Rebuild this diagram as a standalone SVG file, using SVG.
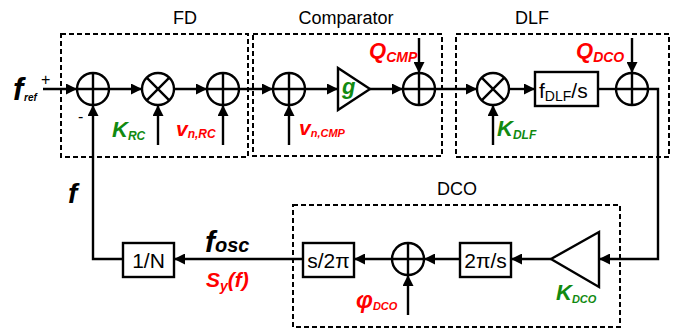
<svg xmlns="http://www.w3.org/2000/svg" width="686" height="331" viewBox="0 0 686 331">
<defs>
<marker id="ah" markerUnits="userSpaceOnUse" markerWidth="11" markerHeight="11" refX="11" refY="5.5" orient="auto">
<path d="M0,0 L11,5.5 L0,11 z" fill="#000"/>
</marker>
</defs>
<style>
.ln{stroke:#000;stroke-width:2.4;fill:none}
.ar{stroke:#000;stroke-width:2.4;fill:none;marker-end:url(#ah)}
.db{stroke:#000;stroke-width:2;fill:none;stroke-dasharray:5,3}
.cir{stroke:#000;stroke-width:2.4;fill:#fff}
.bx{stroke:#000;stroke-width:2.4;fill:#fff}
.t{font-family:"Liberation Sans",Arial,sans-serif;fill:#000}
.bi{font-family:"Liberation Sans",Arial,sans-serif;font-weight:bold;font-style:italic}
.r{fill:#ff0000}
.g{fill:#118a11}
.k{fill:#000}
</style>
<rect width="686" height="331" fill="#fff"/>

<g id="groups">
<rect class="db" x="61" y="34" width="187" height="123"/>
<rect class="db" x="253" y="34" width="189" height="122"/>
<rect class="db" x="456" y="34" width="213" height="123"/>
<rect class="db" x="293" y="205" width="327" height="122"/>
<text class="t" x="185" y="24" font-size="18" text-anchor="middle">FD</text>
<text class="t" x="346" y="24" font-size="18" text-anchor="middle">Comparator</text>
<text class="t" x="532" y="24" font-size="18" text-anchor="middle">DLF</text>
<text class="t" x="457" y="195" font-size="18" text-anchor="middle">DCO</text>
</g>

<g id="connectors">
<line class="ar" x1="43" y1="89" x2="77" y2="89"/>
<line class="ar" x1="109" y1="89" x2="142" y2="89"/>
<line class="ar" x1="174" y1="89" x2="207" y2="89"/>
<line class="ar" x1="239" y1="89" x2="273" y2="89"/>
<line class="ar" x1="305" y1="89" x2="338" y2="89"/>
<line class="ar" x1="370" y1="89" x2="403" y2="89"/>
<line class="ar" x1="435" y1="89" x2="477" y2="89"/>
<line class="ar" x1="509" y1="89" x2="535" y2="89"/>
<line class="ln" x1="598" y1="89" x2="616" y2="89"/>
<polyline class="ar" points="648,89 658,89 658,259 599,259"/>
<line class="ar" x1="551" y1="259" x2="511" y2="259"/>
<line class="ar" x1="460" y1="259" x2="424" y2="259"/>
<line class="ar" x1="392" y1="259" x2="354" y2="259"/>
<line class="ar" x1="303" y1="259" x2="174" y2="259"/>
<polyline class="ar" points="123,259 93,259 93,105"/>
<line class="ar" x1="158" y1="145" x2="158" y2="105"/>
<line class="ar" x1="223" y1="145" x2="223" y2="105"/>
<line class="ar" x1="289" y1="145" x2="289" y2="105"/>
<line class="ar" x1="493" y1="145" x2="493" y2="105"/>
<line class="ar" x1="419" y1="38" x2="419" y2="73"/>
<line class="ar" x1="632" y1="38" x2="632" y2="73"/>
<line class="ar" x1="408" y1="315" x2="408" y2="275"/>
</g>

<g id="sum1"><circle class="cir" cx="93" cy="89" r="16"/><path class="ln" d="M77,89 H109 M93,73 V105"/></g>
<g id="mult1"><circle class="cir" cx="158" cy="89" r="16"/><path class="ln" d="M146.7,77.7 L169.3,100.3 M169.3,77.7 L146.7,100.3"/></g>
<g id="sum2"><circle class="cir" cx="223" cy="89" r="16"/><path class="ln" d="M207,89 H239 M223,73 V105"/></g>
<g id="sum3"><circle class="cir" cx="289" cy="89" r="16"/><path class="ln" d="M273,89 H305 M289,73 V105"/></g>
<g id="gain"><polygon class="bx" points="338,68 338,110 370,89"/><text class="bi g" x="342" y="94" font-size="22">g</text></g>
<g id="sum4"><circle class="cir" cx="419" cy="89" r="16"/><path class="ln" d="M403,89 H435 M419,73 V105"/></g>
<g id="mult2"><circle class="cir" cx="493" cy="89" r="16"/><path class="ln" d="M481.7,77.7 L504.3,100.3 M504.3,77.7 L481.7,100.3"/></g>
<g id="dlf"><rect class="bx" x="535" y="72" width="63" height="34"/><text class="t" x="539" y="98" font-size="21">f<tspan font-size="14" dy="3">DLF</tspan><tspan dy="-3">/s</tspan></text></g>
<g id="sum5"><circle class="cir" cx="632" cy="89" r="16"/><path class="ln" d="M616,89 H648 M632,73 V105"/></g>
<g id="kdco"><polygon class="bx" points="599,232 599,287 551,259"/></g>
<g id="int"><rect class="bx" x="460" y="243" width="51" height="34"/><text class="t" x="485.5" y="268" font-size="21" text-anchor="middle">2π/s</text></g>
<g id="sum6"><circle class="cir" cx="408" cy="259" r="16"/><path class="ln" d="M392,259 H424 M408,243 V275"/></g>
<g id="diff"><rect class="bx" x="303" y="243" width="51" height="34"/><text class="t" x="328.5" y="268" font-size="21" text-anchor="middle">s/2π</text></g>
<g id="div"><rect class="bx" x="123" y="243" width="51" height="34"/><text class="t" x="148.5" y="268" font-size="21" text-anchor="middle">1/N</text></g>

<g id="labels">
<text class="bi k" x="13" y="100" font-size="31">f</text>
<text class="bi k" x="24" y="101" font-size="10">ref</text>
<text class="t" x="41" y="85" font-size="16">+</text>
<text class="t" x="78" y="122" font-size="16">-</text>
<text class="bi g" x="112" y="137" font-size="22">K<tspan font-size="12" dy="3">RC</tspan></text>
<text class="bi r" x="176" y="136" font-size="21">v<tspan font-size="12" dy="2">n,RC</tspan></text>
<text class="bi r" x="299" y="135" font-size="21">v<tspan font-size="11" dy="2">n,CMP</tspan></text>
<text class="bi r" x="369" y="58" font-size="22">Q<tspan font-size="14" dy="4">CMP</tspan></text>
<text class="bi r" x="576" y="58" font-size="22">Q<tspan font-size="14" dy="4">DCO</tspan></text>
<text class="bi g" x="497" y="136" font-size="22">K<tspan font-size="12" dy="3">DLF</tspan></text>
<text class="bi k" x="68" y="203" font-size="28">f</text>
<text class="bi k" x="205" y="252" font-size="30">f<tspan font-size="20">osc</tspan></text>
<text class="bi r" x="206" y="287" font-size="21">S<tspan font-size="14" dy="4">y</tspan><tspan dy="-4">(f)</tspan></text>
<text class="bi r" x="356" y="308" font-size="24">φ<tspan font-size="11" dy="2">DCO</tspan></text>
<text class="bi g" x="556" y="300" font-size="22">K<tspan font-size="11" dy="3">DCO</tspan></text>
</g>
</svg>
